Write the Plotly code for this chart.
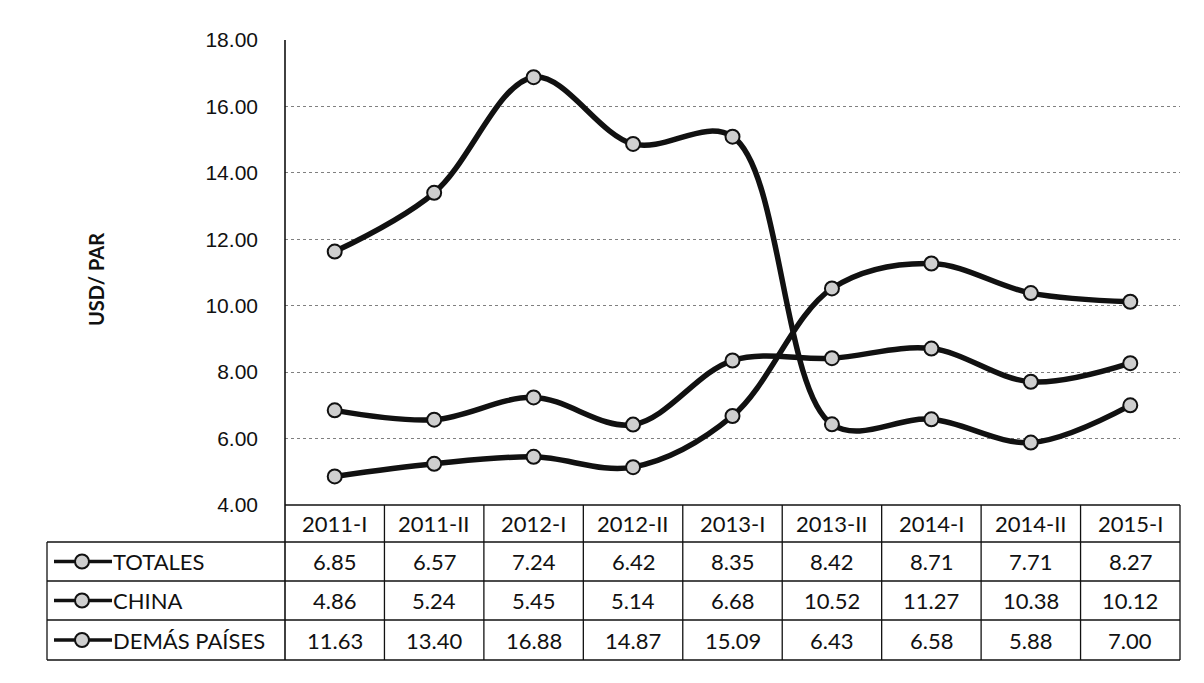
import plotly.graph_objects as go

# Semester labels and unit prices (USD per pair)
periods = ["2011-I", "2011-II", "2012-I", "2012-II", "2013-I",
           "2013-II", "2014-I", "2014-II", "2015-I"]
totales = [6.85, 6.57, 7.24, 6.42, 8.35, 8.42, 8.71, 7.71, 8.27]
china = [4.86, 5.24, 5.45, 5.14, 6.68, 10.52, 11.27, 10.38, 10.12]
demas = [11.63, 13.40, 16.88, 14.87, 15.09, 6.43, 6.58, 5.88, 7.00]
series_names = ["TOTALES", "CHINA", "DEMÁS PAÍSES"]
y_ticks = [4, 6, 8, 10, 12, 14, 16, 18]

W, H = 1204, 683
X0, X1 = 285, 1180          # plot area left/right (px)
Y_TOP, Y_BOT = 40, 505      # plot area top/bottom (px)
TBL_LEFT = 47
ROW_LINES = [505, 542, 581, 620, 660]


def px_x(p):
    return p / W


def px_y(p):
    return 1 - p / H


TABLE_FONT = "Lato, 'Open Sans', sans-serif"
INK = "#111111"

fig = go.Figure()
xs = list(range(len(periods)))
for name, vals in zip(series_names, [totales, china, demas]):
    fig.add_trace(go.Scatter(
        x=xs, y=vals, name=name, mode="lines+markers",
        line=dict(color=INK, width=5.5, shape="spline", smoothing=1.0),
        marker=dict(size=14, color="#cfcfcf", line=dict(color=INK, width=2)),
        showlegend=False, cliponaxis=False,
    ))

shapes = []
# y axis line running through the data table
shapes.append(dict(type="line", xref="paper", yref="paper",
                   x0=px_x(X0), x1=px_x(X0), y0=px_y(Y_TOP), y1=px_y(ROW_LINES[-1]),
                   line=dict(color=INK, width=1.6)))
# horizontal table rules
for i, r in enumerate(ROW_LINES):
    left = X0 if i == 0 else TBL_LEFT
    shapes.append(dict(type="line", xref="paper", yref="paper",
                       x0=px_x(left), x1=px_x(X1), y0=px_y(r), y1=px_y(r),
                       line=dict(color=INK, width=1.3)))
# left border of the legend column
shapes.append(dict(type="line", xref="paper", yref="paper",
                   x0=px_x(TBL_LEFT), x1=px_x(TBL_LEFT),
                   y0=px_y(ROW_LINES[1]), y1=px_y(ROW_LINES[-1]),
                   line=dict(color=INK, width=1.3)))
# column separators between periods
for i in range(1, len(periods) + 1):
    xb = X0 + (X1 - X0) * i / len(periods)
    shapes.append(dict(type="line", xref="paper", yref="paper",
                       x0=px_x(xb), x1=px_x(xb),
                       y0=px_y(ROW_LINES[0]), y1=px_y(ROW_LINES[-1]),
                       line=dict(color=INK, width=1.3)))

annotations = []
cell_font = dict(family=TABLE_FONT, size=22, color=INK)
# header row
for i, p in enumerate(periods):
    annotations.append(dict(x=i, xref="x", y=px_y((ROW_LINES[0] + ROW_LINES[1]) / 2),
                            yref="paper", text=p, showarrow=False,
                            xanchor="center", yanchor="middle", font=cell_font))
# series rows with legend keys
for r, (name, vals) in enumerate(zip(series_names, [totales, china, demas])):
    yc = (ROW_LINES[r + 1] + ROW_LINES[r + 2]) / 2
    for i, v in enumerate(vals):
        annotations.append(dict(x=i, xref="x", y=px_y(yc), yref="paper",
                                text=f"{v:.2f}", showarrow=False,
                                xanchor="center", yanchor="middle", font=cell_font))
    annotations.append(dict(x=px_x(111), xref="paper", y=px_y(yc), yref="paper",
                            text=name, showarrow=False,
                            xanchor="left", yanchor="middle", font=cell_font))
    shapes.append(dict(type="line", xref="paper", yref="paper",
                       x0=px_x(54), x1=px_x(112), y0=px_y(yc), y1=px_y(yc),
                       line=dict(color=INK, width=3.5)))
    shapes.append(dict(type="circle", xref="paper", yref="paper",
                       x0=px_x(75), x1=px_x(89), y0=px_y(yc + 7), y1=px_y(yc - 7),
                       fillcolor="#cfcfcf", line=dict(color=INK, width=2)))

# y axis title
annotations.append(dict(x=px_x(96), xref="paper", y=px_y(280), yref="paper",
                        text="<b>USD/ PAR</b>", showarrow=False, textangle=-90,
                        xanchor="center", yanchor="middle",
                        font=dict(family=TABLE_FONT, size=20, color=INK)))

fig.update_layout(
    width=W, height=H,
    margin=dict(l=0, r=0, t=0, b=0, pad=0),
    paper_bgcolor="white", plot_bgcolor="white",
    xaxis=dict(domain=[px_x(X0), px_x(X1)], range=[-0.5, len(periods) - 0.5],
               showticklabels=False, showgrid=False, zeroline=False,
               showline=False, ticks="", automargin=False),
    yaxis=dict(domain=[px_y(Y_BOT), px_y(Y_TOP)], range=[4, 18],
               tickvals=y_ticks, ticktext=[f"{v:.2f}" for v in y_ticks],
               showgrid=True, gridcolor="#808080", griddash="dot", gridwidth=1,
               zeroline=False, showline=False, ticks="", automargin=False,
               ticklabelstandoff=26,
               tickfont=dict(family="'Liberation Sans', Arial, sans-serif",
                             size=21, color=INK)),
    shapes=shapes,
    annotations=annotations,
)

fig.write_html("out.html")
